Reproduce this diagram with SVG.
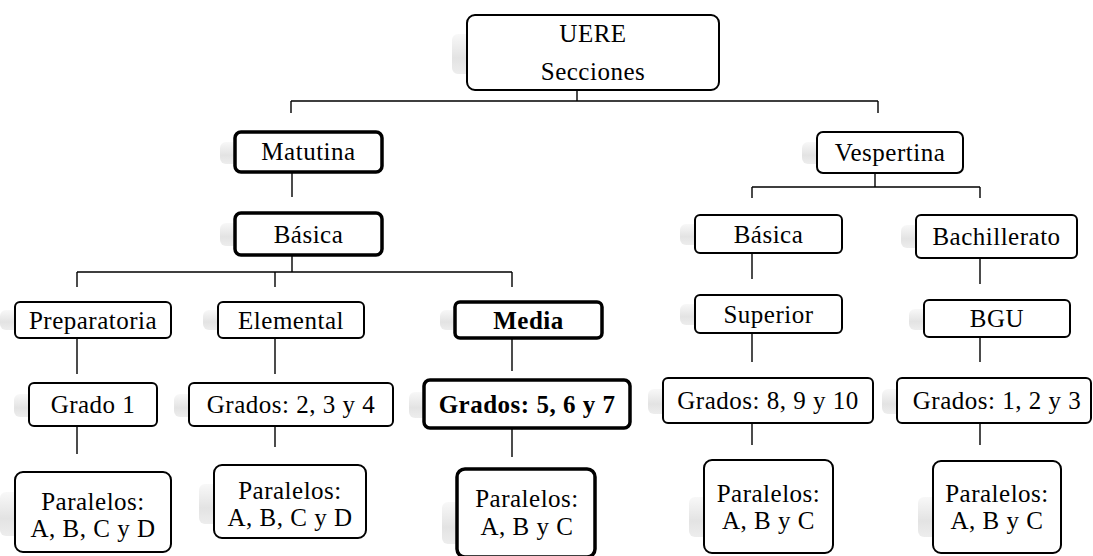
<svg xmlns="http://www.w3.org/2000/svg" width="1093" height="556" viewBox="0 0 1093 556">
<style>
.b{fill:#fff;stroke:#000;stroke-width:2}
.k{fill:#fff;stroke:#000;stroke-width:3.5}
.sh{fill:url(#sg);stroke:none}
.t{font-family:"Liberation Serif","Times New Roman",serif;font-size:25px;letter-spacing:0.5px;fill:#000;text-anchor:middle}
.bd{font-weight:bold}
.c{stroke:#000;stroke-width:1.4;fill:none}
</style>
<defs>
<linearGradient id="sg" x1="0" y1="0" x2="0" y2="1">
<stop offset="0" stop-color="#f8f8f8"/>
<stop offset="0.6" stop-color="#e3e3e3"/>
<stop offset="1" stop-color="#ededed"/>
</linearGradient>
</defs>
<rect width="1093" height="556" fill="#fff"/>
<g id="connectors">
<path class="c" d="M577 90V101M291 101H878M291 101V113M878 101V113"/>
<path class="c" d="M292 172V197M292 255V272M77 272H512M77 272V287M275 272V287M512 272V287"/>
<path class="c" d="M77 338V374M275 338V374M512 338V371"/>
<path class="c" d="M77 426V454M275 426V447M512 428V457"/>
<path class="c" d="M875 173V187M752 187H980M752 187V198M980 187V198"/>
<path class="c" d="M752 253V279M980 258V284M752 333V362M980 337V362M752 423V445M980 423V445"/>
</g>
<g id="n-uere"><rect class="sh" x="452" y="34" width="60" height="40" rx="6"/><rect class="b" x="467" y="15" width="252" height="75" rx="8"/><text class="t" x="593" y="42">UERE</text><text class="t" x="593" y="80">Secciones</text></g>
<g id="n-matutina"><rect class="sh" x="220" y="142" width="60" height="22" rx="6"/><rect class="k" x="235" y="132" width="147" height="40" rx="6"/><text class="t" x="308.5" y="160">Matutina</text></g>
<g id="n-basica-m"><rect class="sh" x="220" y="223" width="60" height="23" rx="6"/><rect class="k" x="235" y="213" width="147" height="42" rx="6"/><text class="t" x="308.5" y="243">Básica</text></g>
<g id="n-preparatoria"><rect class="sh" x="0" y="310" width="60" height="20" rx="6"/><rect class="b" x="15" y="302" width="156" height="36" rx="5"/><text class="t" x="93" y="328.5">Preparatoria</text></g>
<g id="n-elemental"><rect class="sh" x="203" y="310" width="60" height="20" rx="6"/><rect class="b" x="218" y="302" width="146" height="36" rx="5"/><text class="t" x="291" y="328.5">Elemental</text></g>
<g id="n-media"><rect class="sh" x="440" y="310" width="60" height="20" rx="6"/><rect class="k" x="455" y="302" width="147" height="36" rx="5"/><text class="t bd" x="528.5" y="328.5">Media</text></g>
<g id="n-grado1"><rect class="sh" x="14" y="394" width="60" height="23" rx="6"/><rect class="b" x="29" y="383" width="128" height="43" rx="5"/><text class="t" x="93" y="413">Grado 1</text></g>
<g id="n-grados234"><rect class="sh" x="174" y="394" width="60" height="23" rx="6"/><rect class="b" x="189" y="383" width="204" height="43" rx="5"/><text class="t" x="291" y="413">Grados: 2, 3 y 4</text></g>
<g id="n-grados567"><rect class="sh" x="409" y="392" width="60" height="26" rx="6"/><rect class="k" x="424" y="380" width="206" height="48" rx="6"/><text class="t bd" x="527" y="412.5">Grados: 5, 6 y 7</text></g>
<g id="n-par1"><rect class="sh" x="0" y="492" width="60" height="44" rx="6"/><rect class="b" x="15" y="472" width="156" height="80" rx="8"/><text class="t" x="93" y="510">Paralelos:</text><text class="t" x="93" y="537">A, B, C y D</text></g>
<g id="n-par2"><rect class="sh" x="199" y="484" width="60" height="40" rx="6"/><rect class="b" x="214" y="465" width="152" height="73" rx="8"/><text class="t" x="290" y="499">Paralelos:</text><text class="t" x="290" y="526">A, B, C y D</text></g>
<g id="n-par3"><rect class="sh" x="442" y="502" width="60" height="42" rx="6"/><rect class="k" x="457" y="469" width="138" height="88" rx="8"/><text class="t" x="527" y="507">Paralelos:</text><text class="t" x="527" y="535">A, B y C</text></g>
<g id="n-vespertina"><rect class="sh" x="802" y="142" width="60" height="22" rx="6"/><rect class="b" x="817" y="132" width="146" height="41" rx="6"/><text class="t" x="890" y="161">Vespertina</text></g>
<g id="n-basica-v"><rect class="sh" x="680" y="224" width="60" height="21" rx="6"/><rect class="b" x="695" y="215" width="147" height="38" rx="5"/><text class="t" x="768.5" y="242.5">Básica</text></g>
<g id="n-bachillerato"><rect class="sh" x="901" y="225" width="60" height="23" rx="6"/><rect class="b" x="916" y="215" width="161" height="43" rx="5"/><text class="t" x="996.5" y="245">Bachillerato</text></g>
<g id="n-superior"><rect class="sh" x="680" y="304" width="60" height="21" rx="6"/><rect class="b" x="695" y="295" width="147" height="38" rx="5"/><text class="t" x="768.5" y="322.5">Superior</text></g>
<g id="n-bgu"><rect class="sh" x="909" y="309" width="60" height="21" rx="6"/><rect class="b" x="924" y="300" width="146" height="37" rx="5"/><text class="t" x="997" y="327">BGU</text></g>
<g id="n-grados8910"><rect class="sh" x="648" y="389" width="60" height="25" rx="6"/><rect class="b" x="663" y="378" width="210" height="45" rx="5"/><text class="t" x="768" y="409">Grados: 8, 9 y 10</text></g>
<g id="n-grados123"><rect class="sh" x="882" y="389" width="60" height="25" rx="6"/><rect class="b" x="897" y="378" width="194" height="45" rx="5"/><text class="t" x="997" y="409">Grados: 1, 2 y 3</text></g>
<g id="n-par4"><rect class="sh" x="689" y="497" width="60" height="40" rx="6"/><rect class="b" x="704" y="460" width="129" height="93" rx="8"/><text class="t" x="768.5" y="502">Paralelos:</text><text class="t" x="768.5" y="529">A, B y C</text></g>
<g id="n-par5"><rect class="sh" x="918" y="497" width="60" height="40" rx="6"/><rect class="b" x="933" y="461" width="128" height="92" rx="8"/><text class="t" x="997" y="502">Paralelos:</text><text class="t" x="997" y="529">A, B y C</text></g>
</svg>
